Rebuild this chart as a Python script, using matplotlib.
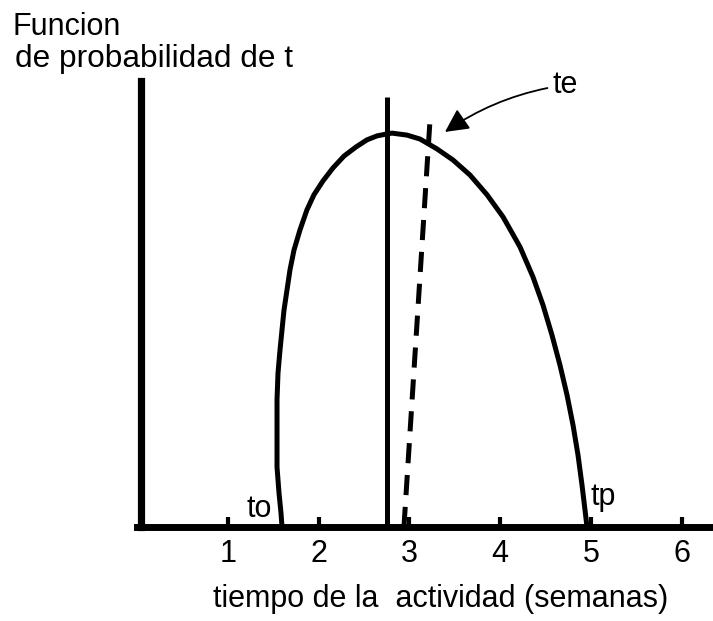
import matplotlib
matplotlib.use("Agg")
import matplotlib.pyplot as plt

plt.rcParams['font.family'] = ['Liberation Sans', 'DejaVu Sans']
plt.rcParams['lines.scale_dashes'] = False

# Data (t in weeks, y = relative probability density)
curve_t = [1.597, 1.586, 1.564, 1.542, 1.542, 1.542, 1.553, 1.575, 1.597, 1.619,
           1.652, 1.685, 1.729, 1.795, 1.872, 1.949, 2.048, 2.159, 2.280, 2.412,
           2.533, 2.643, 2.753, 2.808, 2.974, 3.117, 3.304, 3.480, 3.667, 3.855,
           4.031, 4.218, 4.361, 4.471, 4.570, 4.658, 4.736, 4.802, 4.857, 4.901,
           4.934, 4.956]
curve_y = [0.000, 0.035, 0.086, 0.152, 0.238, 0.322, 0.390, 0.448, 0.499, 0.549,
           0.600, 0.651, 0.701, 0.752, 0.803, 0.841, 0.876, 0.909, 0.939, 0.962,
           0.980, 0.990, 0.995, 0.997, 0.992, 0.982, 0.957, 0.929, 0.891, 0.841,
           0.785, 0.709, 0.633, 0.562, 0.486, 0.410, 0.334, 0.258, 0.182, 0.106,
           0.043, 0.000]

mode_t = [2.753, 2.753]
mode_y = [0.0, 1.089]
te_t = [2.940, 3.227]
te_y = [0.0, 1.030]

xticks = [1, 2, 3, 4, 5, 6]
xticklabels = ['1', '2', '3', '4', '5', '6']

ylabel_lines = ['Funcion', 'de probabilidad de t']
xlabel = 'tiempo de la  actividad (semanas)'

fig = plt.figure(figsize=(7.13, 6.21), dpi=100)
ax = fig.add_axes([0, 0, 1, 1])
ax.set_xlim(-1.5088, 6.3436)
ax.set_ylim(-0.238, 1.334)
ax.patch.set_alpha(0)

# Axes lines
for s in ['top', 'right']:
    ax.spines[s].set_visible(False)
ax.spines['left'].set_position(('data', 0.044))
ax.spines['left'].set_bounds(0, 1.129)
ax.spines['left'].set_linewidth(5.2)
ax.spines['bottom'].set_position(('data', 0))
ax.spines['bottom'].set_bounds(0.0, 6.4)
ax.spines['bottom'].set_linewidth(5.0)

ax.set_yticks([])
ax.set_xticks(xticks)
ax.set_xticklabels(xticklabels)
ax.tick_params(axis='x', direction='in', length=7, width=3, pad=8.5,
               labelsize=22, color='black')

ax.xaxis.set_label_coords(3.348, -0.2025, transform=ax.transData)
ax.set_xlabel(xlabel, fontsize=22, va='baseline', ha='center')

# Curve and lines
ax.plot(curve_t, curve_y, color='black', lw=3.6, solid_joinstyle='round')
ax.plot(mode_t, mode_y, color='black', lw=3.6, solid_capstyle='butt')
ax.plot(te_t, te_y, color='black', lw=3.6, dashes=(14.5, 8.5), dash_capstyle='butt')

# Texts
ax.text(-1.366, 1.2456, ylabel_lines[0], fontsize=22, ha='left', va='baseline')
ax.text(-1.344, 1.1646, ylabel_lines[1], fontsize=22.8, ha='left', va='baseline')
ax.text(1.211, 0.0253, 'to', fontsize=22, ha='left', va='baseline')
ax.text(4.989, 0.0557, 'tp', fontsize=22, ha='left', va='baseline')
ax.annotate('te', xy=(3.392, 1.0), xytext=(4.581, 1.0987), fontsize=22,
            ha='left', va='baseline',
            arrowprops=dict(arrowstyle='-|>,head_length=0.65,head_width=0.33',
                            color='black', lw=1.3, shrinkA=2, shrinkB=0,
                            connectionstyle='arc3,rad=0.12'))

fig.savefig('out.png', dpi=100)
